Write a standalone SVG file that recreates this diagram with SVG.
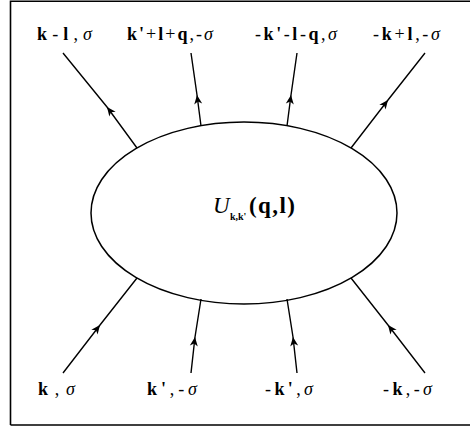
<svg xmlns="http://www.w3.org/2000/svg" width="470" height="431" viewBox="0 0 470 431">
<style>
.lbl{font-family:"Liberation Serif",serif;font-size:18px;fill:#000}
.b{font-weight:bold}
.i{font-style:italic}
.edge{fill:none;stroke:#000;stroke-width:1.4}
</style>
<defs>
<marker id="arr" viewBox="-10 -5 12 10" markerWidth="12" markerHeight="10" refX="0" refY="0" orient="auto" markerUnits="userSpaceOnUse">
<path d="M0,0 L-9,-4 L-6.5,0 L-9,4 Z" fill="#000"/>
</marker>
</defs>
<rect x="0" y="0" width="470" height="431" fill="#fff"/>
<path d="M10.5,425 V1.2 H470 M10.5,425 H470" fill="none" stroke="#000" stroke-width="1.6"/>
<g id="vertex">
<ellipse cx="244" cy="213" rx="153" ry="91" fill="#fff" stroke="#000" stroke-width="1.5"/>
<text class="lbl" x="213" y="213" style="font-size:23px"><tspan class="i">U</tspan></text>
<text class="lbl b" x="230" y="220" style="font-size:10px">k,k'</text>
<text class="lbl b" x="249" y="213" style="font-size:23px" textLength="46" lengthAdjust="spacing">(q,l)</text>
</g>
<g id="connectors">
<path class="edge" d="M137,148 L107,107 L63,53" marker-mid="url(#arr)"/>
<path class="edge" d="M201,126 L197,95 L191,53" marker-mid="url(#arr)"/>
<path class="edge" d="M287,126 L291,95 L297,53" marker-mid="url(#arr)"/>
<path class="edge" d="M351,148 L388,100 L425,53" marker-mid="url(#arr)"/>
<path class="edge" d="M63,373 L100,325 L137,278" marker-mid="url(#arr)"/>
<path class="edge" d="M191,373 L195,337 L201,299" marker-mid="url(#arr)"/>
<path class="edge" d="M297,373 L293,337 L287,299" marker-mid="url(#arr)"/>
<path class="edge" d="M425,373 L388,325 L351,278" marker-mid="url(#arr)"/>
</g>
<g id="label-out1"><text class="lbl" x="37" y="40" textLength="55" lengthAdjust="spacing"><tspan class="b">k</tspan>-<tspan class="b">l</tspan>,<tspan class="i">σ</tspan></text></g>
<g id="label-out2"><text class="lbl" x="127" y="40" textLength="86" lengthAdjust="spacing"><tspan class="b">k'</tspan>+<tspan class="b">l</tspan>+<tspan class="b">q</tspan>,-<tspan class="i">σ</tspan></text></g>
<g id="label-out3"><text class="lbl" x="255" y="40" textLength="82" lengthAdjust="spacing">-<tspan class="b">k'</tspan>-<tspan class="b">l</tspan>-<tspan class="b">q</tspan>,<tspan class="i">σ</tspan></text></g>
<g id="label-out4"><text class="lbl" x="373" y="40" textLength="67" lengthAdjust="spacing">-<tspan class="b">k</tspan>+<tspan class="b">l</tspan>,-<tspan class="i">σ</tspan></text></g>
<g id="label-in1"><text class="lbl" x="38" y="395" textLength="37" lengthAdjust="spacing"><tspan class="b">k</tspan>,<tspan class="i">σ</tspan></text></g>
<g id="label-in2"><text class="lbl" x="147" y="395" textLength="50" lengthAdjust="spacing"><tspan class="b">k'</tspan>,-<tspan class="i">σ</tspan></text></g>
<g id="label-in3"><text class="lbl" x="265" y="395" textLength="48" lengthAdjust="spacing">-<tspan class="b">k'</tspan>,<tspan class="i">σ</tspan></text></g>
<g id="label-in4"><text class="lbl" x="383" y="395" textLength="49" lengthAdjust="spacing">-<tspan class="b">k</tspan>,-<tspan class="i">σ</tspan></text></g>
</svg>
